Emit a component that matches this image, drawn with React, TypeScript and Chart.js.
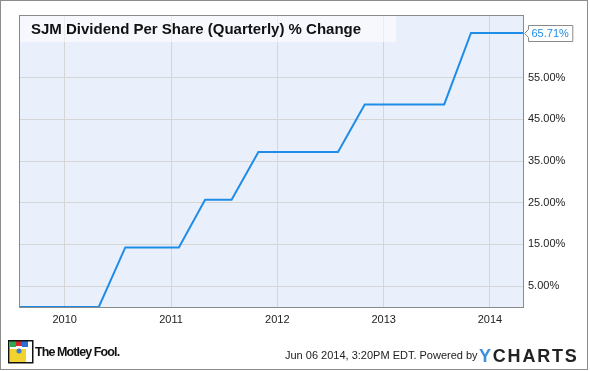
import React, { useEffect, useRef } from 'react';
import { Chart, registerables } from 'chart.js';
Chart.register(...registerables);

const quarterDates = [
  '2009-07-28', '2009-10-28', '2010-01-28', '2010-04-28',
  '2010-07-28', '2010-10-28', '2011-01-28', '2011-04-28',
  '2011-07-28', '2011-10-28', '2012-01-28', '2012-04-28',
  '2012-07-28', '2012-10-28', '2013-01-28', '2013-04-28',
  '2013-07-28', '2013-10-28', '2014-01-28', '2014-04-28',
];
const pctChange = [
  0, 0, 0, 0,
  14.29, 14.29, 14.29, 25.71,
  25.71, 37.14, 37.14, 37.14,
  37.14, 48.57, 48.57, 48.57,
  48.57, 65.71, 65.71, 65.71,
];
const xTickYears = [2010, 2011, 2012, 2013, 2014];
const yTickValues = [5, 15, 25, 35, 45, 55];
const chartTitle = 'SJM Dividend Per Share (Quarterly) % Change';
const footerDate = 'Jun 06 2014, 3:20PM EDT.';

const FONT = '"Liberation Sans", Arial, Helvetica, sans-serif';
const LINE_COLOR = '#1f8de8';

function toDecimalYear(s: string): number {
  const d = new Date(s + 'T00:00:00Z');
  const y = d.getUTCFullYear();
  const start = Date.UTC(y, 0, 1);
  const end = Date.UTC(y + 1, 0, 1);
  return y + (d.getTime() - start) / (end - start);
}

const decorPlugin = {
  id: 'decor',
  beforeDraw(chart: any) {
    const { ctx, chartArea: a } = chart;
    ctx.save();
    ctx.fillStyle = '#ffffff';
    ctx.fillRect(0, 0, chart.width, chart.height);
    ctx.fillStyle = '#eaf0fb';
    ctx.fillRect(a.left, a.top, a.right - a.left, a.bottom - a.top);
    ctx.restore();
  },
  beforeDatasetsDraw(chart: any) {
    const { ctx, chartArea: a } = chart;
    ctx.save();
    ctx.fillStyle = 'rgba(255,255,255,0.55)';
    ctx.fillRect(a.left, a.top, 377, 27);
    ctx.fillStyle = '#111111';
    ctx.font = 'bold 15px ' + FONT;
    ctx.textBaseline = 'alphabetic';
    ctx.textAlign = 'left';
    ctx.fillText(chartTitle, a.left + 12, a.top + 19);
    ctx.restore();
  },
  afterDraw(chart: any) {
    const { ctx, chartArea: a } = chart;
    ctx.save();
    // plot border
    ctx.strokeStyle = '#8a8a8a';
    ctx.lineWidth = 1;
    ctx.strokeRect(a.left + 0.5, a.top + 0.5, a.right - a.left - 1, a.bottom - a.top);
    // last value label
    const last = pctChange[pctChange.length - 1];
    const y = Math.round(chart.scales.y.getPixelForValue(last)) + 0.5;
    const text = last.toFixed(2) + '%';
    ctx.font = '11px ' + FONT;
    const tw = ctx.measureText(text).width;
    const bx = a.right + 4.5;
    const bw = tw + 7;
    ctx.beginPath();
    ctx.moveTo(bx, y - 8);
    ctx.lineTo(bx + bw, y - 8);
    ctx.lineTo(bx + bw, y + 8);
    ctx.lineTo(bx, y + 8);
    ctx.lineTo(bx, y + 4);
    ctx.lineTo(bx - 4, y);
    ctx.lineTo(bx, y - 4);
    ctx.closePath();
    ctx.fillStyle = '#ffffff';
    ctx.fill();
    ctx.strokeStyle = '#8a8a8a';
    ctx.stroke();
    ctx.fillStyle = LINE_COLOR;
    ctx.textBaseline = 'middle';
    ctx.textAlign = 'left';
    ctx.fillText(text, bx + 3, y);
    // outer border
    ctx.strokeStyle = '#8c8c8c';
    ctx.strokeRect(0.5, 0.5, 587, 369);
    // logo (approximation of jester)
    const lx = 8, ly = 340;
    ctx.fillStyle = '#ffffff';
    ctx.fillRect(lx, ly, 25, 23);
    ctx.fillStyle = '#f2d22e';
    ctx.fillRect(lx + 2, ly + 9, 16, 13);
    ctx.fillStyle = '#2fa84f';
    ctx.fillRect(lx + 2, ly + 1, 6, 6);
    ctx.fillStyle = '#d8262e';
    ctx.fillRect(lx + 8, ly + 1, 6, 5);
    ctx.fillStyle = '#2a6fd6';
    ctx.fillRect(lx + 14, ly + 1, 6, 6);
    ctx.fillStyle = '#3a7bd5';
    ctx.beginPath();
    ctx.arc(lx + 11, ly + 11, 2.5, 0, Math.PI * 2);
    ctx.fill();
    ctx.strokeStyle = '#111111';
    ctx.lineWidth = 1.5;
    ctx.strokeRect(lx + 0.75, ly + 0.75, 24, 22);
    ctx.restore();
  },
};

export default function App() {
  const ref = useRef<HTMLCanvasElement | null>(null);
  useEffect(() => {
    document.body.style.margin = '0';
    const canvas = ref.current;
    if (!canvas) return;
    const points = quarterDates.map((d, i) => ({ x: toDecimalYear(d), y: pctChange[i] }));
    const chart = new Chart(canvas, {
      type: 'line',
      data: {
        datasets: [
          {
            data: points,
            borderColor: LINE_COLOR,
            borderWidth: 2,
            pointRadius: 0,
            tension: 0,
            fill: false,
            clip: 2,
          },
        ],
      },
      options: {
        animation: false,
        responsive: false,
        devicePixelRatio: 1,
        layout: { padding: { left: 19, top: 15, right: 0, bottom: 0 } },
        plugins: { legend: { display: false }, tooltip: { enabled: false }, title: { display: false } },
        scales: {
          x: {
            type: 'linear',
            min: points[0].x,
            max: points[points.length - 1].x,
            afterBuildTicks: (s: any) => {
              s.ticks = xTickYears.map((v) => ({ value: v }));
            },
            afterFit: (s: any) => {
              s.height = 64;
            },
            grid: { color: '#d6d6d6', drawTicks: false, lineWidth: 1 },
            border: { display: false },
            ticks: {
              padding: 6,
              color: '#222222',
              font: { family: FONT, size: 11 },
              maxRotation: 0,
              autoSkip: false,
              callback: (v: any) => String(v),
            },
          },
          y: {
            type: 'linear',
            position: 'right',
            min: 0,
            max: 70,
            afterBuildTicks: (s: any) => {
              s.ticks = yTickValues.map((v) => ({ value: v }));
            },
            afterFit: (s: any) => {
              s.width = 66;
            },
            grid: { color: '#d6d6d6', drawTicks: false, lineWidth: 1 },
            border: { display: false },
            ticks: {
              padding: 4,
              color: '#222222',
              font: { family: FONT, size: 11 },
              callback: (v: any) => Number(v).toFixed(2) + '%',
            },
          },
        },
      },
      plugins: [decorPlugin],
    });
    return () => chart.destroy();
  }, []);

  return (
    <div style={{ position: 'relative', width: 590, height: 371, fontFamily: FONT }}>
      <canvas ref={ref} width={590} height={371} style={{ position: 'absolute', left: 0, top: 0, width: 590, height: 371 }} />
      <div style={{ position: 'absolute', left: 35, top: 345, fontSize: 12.5, fontWeight: 'bold', color: '#111', letterSpacing: -0.9, whiteSpace: 'nowrap' }}>
        The Motley Fool.
      </div>
      <div style={{ position: 'absolute', left: 285, top: 349, fontSize: 11, color: '#222', whiteSpace: 'nowrap' }}>
        {footerDate} Powered by
      </div>
      <div style={{ position: 'absolute', left: 479, top: 346, fontSize: 18, fontWeight: 'bold', color: '#222', letterSpacing: 1.8, whiteSpace: 'nowrap' }}>
        <span style={{ color: '#3b8ee0' }}>Y</span>CHARTS
      </div>
    </div>
  );
}
